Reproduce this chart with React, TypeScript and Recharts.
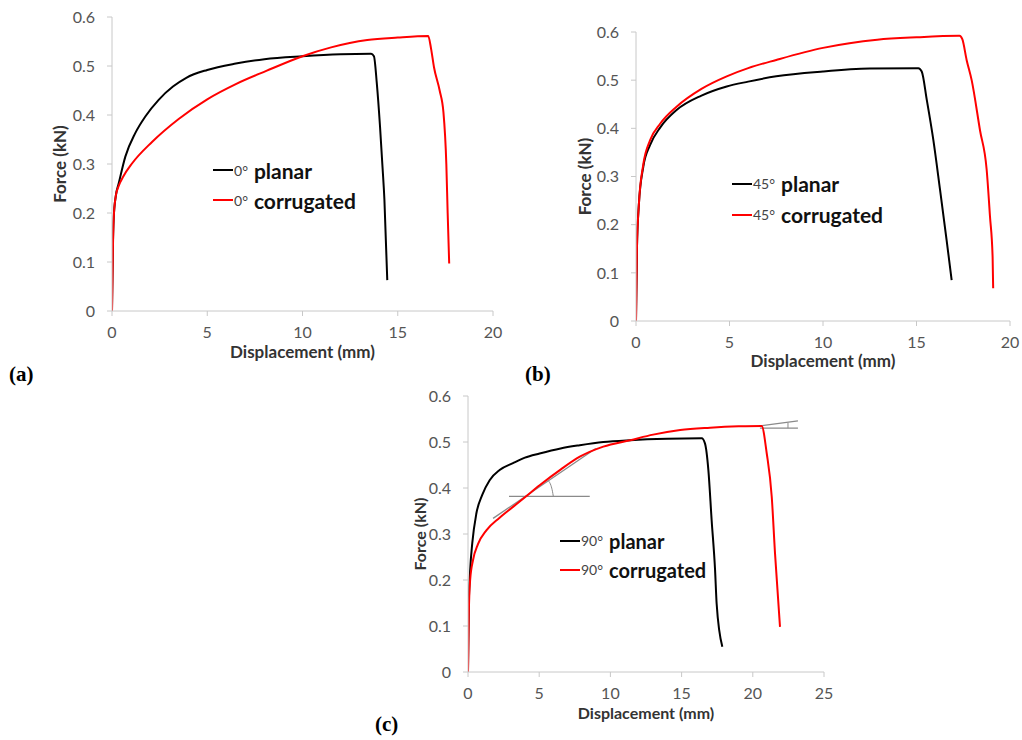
import { LineChart, Line, XAxis, YAxis } from "recharts";

type Pt = [number, number];

const forceTicks = [0, 0.1, 0.2, 0.3, 0.4, 0.5, 0.6];
const dispTicks20 = [0, 5, 10, 15, 20];
const dispTicks25 = [0, 5, 10, 15, 20, 25];

// (a) 0 degree
const planar0: Pt[] = [
  [0, 0], [0.04, 0.12], [0.09, 0.19], [0.2, 0.235], [0.35, 0.26], [0.7, 0.315],
  [1.22, 0.363], [1.75, 0.397], [2.45, 0.431], [3.2, 0.458], [3.9, 0.476], [5, 0.492],
  [6.5, 0.505], [8, 0.514], [10, 0.52], [12, 0.524], [13.6, 0.525], [13.75, 0.52],
  [13.9, 0.465], [14.07, 0.376], [14.2, 0.294], [14.3, 0.227], [14.45, 0.063],
];
const corrugated0: Pt[] = [
  [0, 0], [0.04, 0.11], [0.09, 0.19], [0.2, 0.235], [0.35, 0.255], [0.6, 0.275],
  [1.05, 0.301], [2.1, 0.345], [3.5, 0.392], [5, 0.432], [6.5, 0.463], [8.1, 0.49],
  [10, 0.52], [11.5, 0.538], [13.4, 0.553], [15, 0.558], [16.6, 0.561], [16.75, 0.535],
  [16.9, 0.498], [17.2, 0.45], [17.4, 0.405], [17.55, 0.3], [17.62, 0.2], [17.7, 0.097],
];

// (b) 45 degree
const planar45: Pt[] = [
  [0, 0], [0.05, 0.15], [0.15, 0.24], [0.39, 0.32], [0.75, 0.365], [1.3, 0.402],
  [2.17, 0.438], [3.5, 0.468], [4.85, 0.487], [6, 0.497], [7.5, 0.508], [10, 0.518],
  [12.5, 0.524], [15.1, 0.525], [15.28, 0.518], [15.55, 0.459], [15.9, 0.376],
  [16.26, 0.272], [16.61, 0.168], [16.88, 0.085],
];
const corrugated45: Pt[] = [
  [0, 0], [0.05, 0.15], [0.15, 0.24], [0.39, 0.325], [0.75, 0.375], [1.3, 0.41],
  [2.17, 0.445], [3.5, 0.482], [4.85, 0.508], [6, 0.525], [7.5, 0.542], [10, 0.567],
  [12.9, 0.584], [15, 0.589], [17.3, 0.592], [17.45, 0.585], [17.68, 0.542],
  [17.95, 0.5], [18.4, 0.395], [18.75, 0.315], [18.93, 0.217], [19.07, 0.133], [19.1, 0.068],
];

// (c) 90 degree
const planar90: Pt[] = [
  [0, 0], [0.05, 0.14], [0.15, 0.22], [0.3, 0.28], [0.59, 0.345], [1, 0.385],
  [1.52, 0.417], [2.22, 0.439], [3.16, 0.454], [4, 0.466], [5.03, 0.475], [6.5, 0.486],
  [7.85, 0.493], [9.5, 0.5], [11.4, 0.504], [14, 0.507], [16.41, 0.508], [16.64, 0.497],
  [16.88, 0.439], [17.11, 0.33], [17.35, 0.222], [17.46, 0.149], [17.86, 0.055],
];
const corrugated90: Pt[] = [
  [0, 0], [0.05, 0.12], [0.15, 0.2], [0.35, 0.243], [0.7, 0.278], [1.29, 0.308],
  [2.2, 0.335], [3.16, 0.359], [4, 0.38], [5.03, 0.406], [6.5, 0.44], [7.85, 0.468],
  [9.5, 0.49], [11.4, 0.504], [13, 0.516], [14.9, 0.526], [17, 0.531], [19, 0.534],
  [20.62, 0.535], [20.98, 0.475], [21.33, 0.381], [21.56, 0.258], [21.91, 0.098],
];

// construction lines drawn on (c)
const guideFlat: Pt[] = [[2.88, 0.382], [8.55, 0.382]];
const guideTangent: Pt[] = [[1.76, 0.334], [8.97, 0.486]];
const guideArc: Pt[] = [[5.99, 0.382], [5.93, 0.393], [5.83, 0.405], [5.63, 0.416]];
const guideTopFlat: Pt[] = [[20.5, 0.53], [23.17, 0.53]];
const guideTopSlope: Pt[] = [[20.5, 0.535], [23.17, 0.546]];
const guideTopTick: Pt[] = [[22.47, 0.53], [22.47, 0.542]];

const rows = (pts: Pt[]) => pts.map(([x, y]) => ({ x, y }));

const SANS = "Lato, 'Open Sans', sans-serif";
const AXIS = "#c8c8c8";
const TICK_TEXT = "#555";

type Series = { pts: Pt[]; color: string; width: number; smooth?: boolean };

function Panel(props: {
  left: number;
  top: number;
  width: number;
  height: number;
  margin: { top: number; right: number; bottom: number };
  yWidth: number;
  yLabelOffset: number;
  xLabelOffset: number;
  titleSize: number;
  xMax: number;
  xTicks: number[];
  series: Series[];
}) {
  const { left, top, width, height, margin, yWidth, yLabelOffset, xLabelOffset, titleSize, xMax, xTicks, series } = props;
  return (
    <div style={{ position: "absolute", left, top }}>
      <LineChart width={width} height={height} margin={{ ...margin, left: 0 }}>
        <XAxis
          dataKey="x"
          type="number"
          domain={[0, xMax]}
          ticks={xTicks}
          allowDataOverflow
          height={50}
          stroke={AXIS}
          tickSize={5}
          tickMargin={11}
          tick={{ fill: TICK_TEXT, fontSize: 16, fontFamily: SANS }}
          label={{
            value: "Displacement (mm)",
            position: "insideBottom",
            offset: xLabelOffset,
            style: { fill: "#333", fontSize: titleSize, fontWeight: 700, fontFamily: SANS },
          }}
        />
        <YAxis
          dataKey="y"
          type="number"
          domain={[0, 0.6]}
          ticks={forceTicks}
          width={yWidth}
          stroke={AXIS}
          tickSize={5}
          tickMargin={12}
          tick={{ fill: TICK_TEXT, fontSize: 16, fontFamily: SANS }}
          label={{
            value: "Force (kN)",
            angle: -90,
            position: "insideLeft",
            offset: yLabelOffset,
            style: { textAnchor: "middle", fill: "#333", fontSize: titleSize, fontWeight: 700, fontFamily: SANS },
          }}
        />
        {series.map((s, i) => (
          <Line
            key={i}
            data={rows(s.pts)}
            dataKey="y"
            type={s.smooth ? "monotoneX" : "linear"}
            stroke={s.color}
            strokeWidth={s.width}
            dot={false}
            activeDot={false}
            isAnimationActive={false}
          />
        ))}
      </LineChart>
    </div>
  );
}

function LegendBox(props: { left: number; top: number; angle: string; gap: number; size: number }) {
  const { left, top, angle, gap, size } = props;
  const items = [
    { color: "#000", name: "planar" },
    { color: "#ff0000", name: "corrugated" },
  ];
  return (
    <div style={{ position: "absolute", left, top, fontFamily: SANS }}>
      {items.map((it) => (
        <div key={it.name} style={{ display: "flex", alignItems: "center", height: gap }}>
          <div style={{ width: 20, height: 2, background: it.color }} />
          <span style={{ fontSize: 14, color: "#444", marginLeft: 1 }}>{angle}°</span>
          <span style={{ fontSize: size, fontWeight: 700, color: "#111", marginLeft: 6 }}>{it.name}</span>
        </div>
      ))}
    </div>
  );
}

const panelTag = {
  position: "absolute" as const,
  fontFamily: "'Liberation Serif', 'Times New Roman', serif",
  fontWeight: 700,
  fontSize: 21,
  color: "#000",
};

export default function App() {
  const guide = "#8a8a8a";
  return (
    <div style={{ position: "absolute", left: 0, top: 0, width: 1022, height: 740, background: "#fff" }}>
      <Panel
        left={0}
        top={0}
        width={510}
        height={380}
        margin={{ top: 17, right: 17, bottom: 19 }}
        yWidth={112}
        yLabelOffset={60}
        xLabelOffset={3}
        titleSize={17}
        xMax={20}
        xTicks={dispTicks20}
        series={[
          { pts: planar0, color: "#000", width: 2, smooth: true },
          { pts: corrugated0, color: "#ff0000", width: 2, smooth: true },
        ]}
      />
      <LegendBox left={213} top={155} angle="0" gap={30} size={21} />
      <div style={{ ...panelTag, left: 9, top: 362 }}>(a)</div>

      <Panel
        left={510}
        top={0}
        width={512}
        height={390}
        margin={{ top: 32, right: 12, bottom: 19 }}
        yWidth={126}
        yLabelOffset={75}
        xLabelOffset={4}
        titleSize={17}
        xMax={20}
        xTicks={dispTicks20}
        series={[
          { pts: planar45, color: "#000", width: 2, smooth: true },
          { pts: corrugated45, color: "#ff0000", width: 2, smooth: true },
        ]}
      />
      <LegendBox left={732} top={168} angle="45" gap={31} size={21} />
      <div style={{ ...panelTag, left: 525, top: 362 }}>(b)</div>

      <Panel
        left={380}
        top={380}
        width={460}
        height={360}
        margin={{ top: 16, right: 16, bottom: 18 }}
        yWidth={88}
        yLabelOffset={40}
        xLabelOffset={3}
        titleSize={16}
        xMax={25}
        xTicks={dispTicks25}
        series={[
          { pts: guideFlat, color: guide, width: 1.3 },
          { pts: guideTangent, color: guide, width: 1.3 },
          { pts: guideArc, color: guide, width: 1, smooth: true },
          { pts: guideTopFlat, color: guide, width: 1.3 },
          { pts: guideTopSlope, color: guide, width: 1.3 },
          { pts: guideTopTick, color: guide, width: 1 },
          { pts: planar90, color: "#000", width: 2, smooth: true },
          { pts: corrugated90, color: "#ff0000", width: 2, smooth: true },
        ]}
      />
      <LegendBox left={560} top={526} angle="90" gap={29} size={20} />
      <div style={{ ...panelTag, left: 375, top: 712 }}>(c)</div>
    </div>
  );
}
